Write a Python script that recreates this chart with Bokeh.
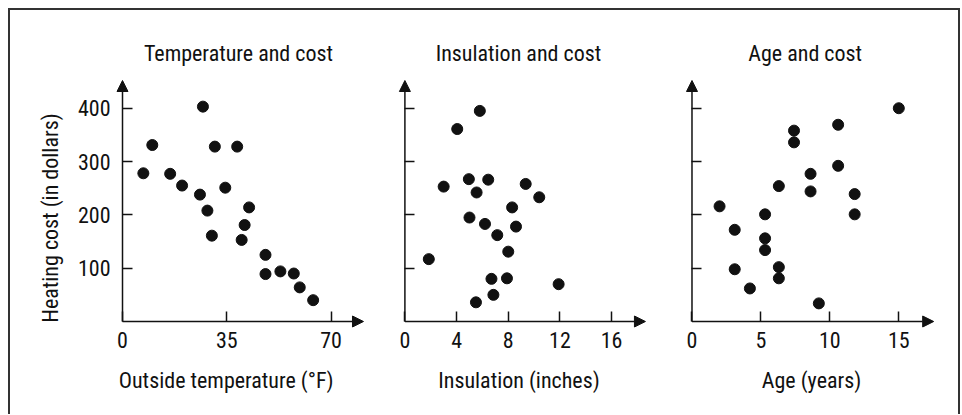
import math
from bokeh.plotting import figure
from bokeh.layouts import row
from bokeh.models import Range1d, FixedTicker, Arrow, NormalHead, Label
from bokeh.embed import file_html
from bokeh.resources import INLINE

# ---- data ----
temp_f = [7, 10, 27, 31, 38.5, 16, 20, 26, 34.5, 28.5, 42.5, 41, 30, 40, 48, 48, 53, 57.5, 59.5, 64]
temp_cost = [278, 331, 403, 328, 328, 277, 255, 238, 251, 208, 214, 181, 161, 153, 125, 89, 94, 90, 64, 40]

ins_in = [5.8, 4.05, 3.0, 4.95, 6.45, 5.55, 9.35, 10.4, 8.3, 5.0, 6.2, 8.6, 7.15, 8.0, 1.85, 6.7, 7.9, 11.9, 6.85, 5.5]
ins_cost = [395, 361, 253, 267, 266, 242, 258, 233, 214, 195, 183, 178, 162, 131, 117, 80, 81, 70, 50, 36]

age_yr = [15, 10.6, 7.4, 7.4, 10.6, 8.6, 6.3, 8.6, 11.8, 11.8, 2.0, 5.3, 3.1, 5.3, 5.3, 3.1, 6.3, 6.3, 4.2, 9.2]
age_cost = [400, 369, 358, 336, 292, 277, 254, 244, 239, 201, 216, 201, 172, 156, 134, 98, 102, 81, 62, 34]

temp_ticks = [0, 35, 70]
ins_ticks = [0, 4, 8, 12, 16]
age_ticks = [0, 5, 10, 15]
cost_ticks = [100, 200, 300, 400]

titles = ["Temperature and cost", "Insulation and cost", "Age and cost"]
xlabels = ["Outside temperature (°F)", "Insulation (inches)", "Age (years)"]
ylabel = "Heating cost (in dollars)"

FONT = "'Roboto Condensed', 'DejaVu Sans Condensed', 'Liberation Sans Narrow', Roboto, sans-serif"
FS = "22px"
INK = "#111111"
H = 404
Y_RANGE = (-174.4, 583.3)   # view window (axes sit at 0)
Y_TIP = 452


def panel(xs, ys, xticks, xr, x_tip, width, show_y, title, xlabel, title_x, xlabel_x):
    p = figure(width=width, height=H, x_range=Range1d(*xr), y_range=Range1d(*Y_RANGE),
               output_backend="svg", toolbar_location=None,
               min_border=0, min_border_left=0, min_border_right=0,
               min_border_top=0, min_border_bottom=0)
    p.grid.visible = False
    p.outline_line_color = None
    p.scatter(xs, ys, size=11, color=INK)

    xa = p.xaxis[0]
    xa.fixed_location = 0
    xa.bounds = (0, x_tip)
    xa.ticker = FixedTicker(ticks=xticks)
    xa.major_tick_in = 10
    xa.major_tick_out = 0
    xa.minor_tick_line_color = None
    xa.axis_line_color = None
    xa.major_tick_line_color = INK
    xa.major_tick_line_width = 1.5
    xa.major_label_text_font = FONT
    xa.major_label_text_font_size = FS
    xa.major_label_text_color = INK
    xa.major_label_standoff = 10

    ya = p.yaxis[0]
    ya.fixed_location = 0
    ya.bounds = (0, Y_TIP)
    ya.ticker = FixedTicker(ticks=cost_ticks)
    ya.major_tick_in = 10
    ya.major_tick_out = 0
    ya.minor_tick_line_color = None
    ya.axis_line_color = None
    ya.major_tick_line_color = INK
    ya.major_tick_line_width = 1.5
    ya.major_label_text_font = FONT
    ya.major_label_text_font_size = FS
    ya.major_label_text_color = INK
    ya.major_label_standoff = 12
    if not show_y:
        ya.major_label_overrides = {t: "" for t in cost_ticks}

    p.add_layout(Arrow(end=NormalHead(size=11, fill_color=INK, line_color=INK),
                       x_start=0, y_start=0, x_end=0, y_end=Y_TIP,
                       line_width=1.5, line_color=INK))
    p.add_layout(Arrow(end=NormalHead(size=11, fill_color=INK, line_color=INK),
                       x_start=0, y_start=0, x_end=x_tip, y_end=0,
                       line_width=1.5, line_color=INK))

    p.add_layout(Label(x=title_x, y=502.6, text=title, text_align="center", text_baseline="middle",
                       text_font=FONT, text_font_size=FS, text_color=INK))
    p.add_layout(Label(x=xlabel_x, y=-110.7, text=xlabel, text_align="center", text_baseline="middle",
                       text_font=FONT, text_font_size=FS, text_color=INK))
    return p


p1 = panel(temp_f, temp_cost, temp_ticks, (-37.6, 84.93), 80.9, 365, True,
           titles[0], xlabels[0], 38.94, 34.8)
p1.add_layout(Label(x=-24.2, y=194.1, text=ylabel, angle=math.pi / 2, text_align="center",
                    text_baseline="middle", text_font=FONT, text_font_size=FS, text_color=INK))
p2 = panel(ins_in, ins_cost, ins_ticks, (-2.276, 19.94), 18.62, 287, False,
           titles[1], xlabels[1], 8.79, 8.83)
p3 = panel(age_yr, age_cost, age_ticks, (-2.139, 19.33), 17.53, 296, False,
           titles[2], xlabels[2], 8.21, 8.67)

layout = row(p1, p2, p3, styles={"margin-left": "8px", "margin-top": "8px",
                                 "border-top": "2px solid #333", "border-left": "2px solid #333",
                                 "border-right": "2px solid #333"})

open("out.html", "w").write(file_html(layout, INLINE))
